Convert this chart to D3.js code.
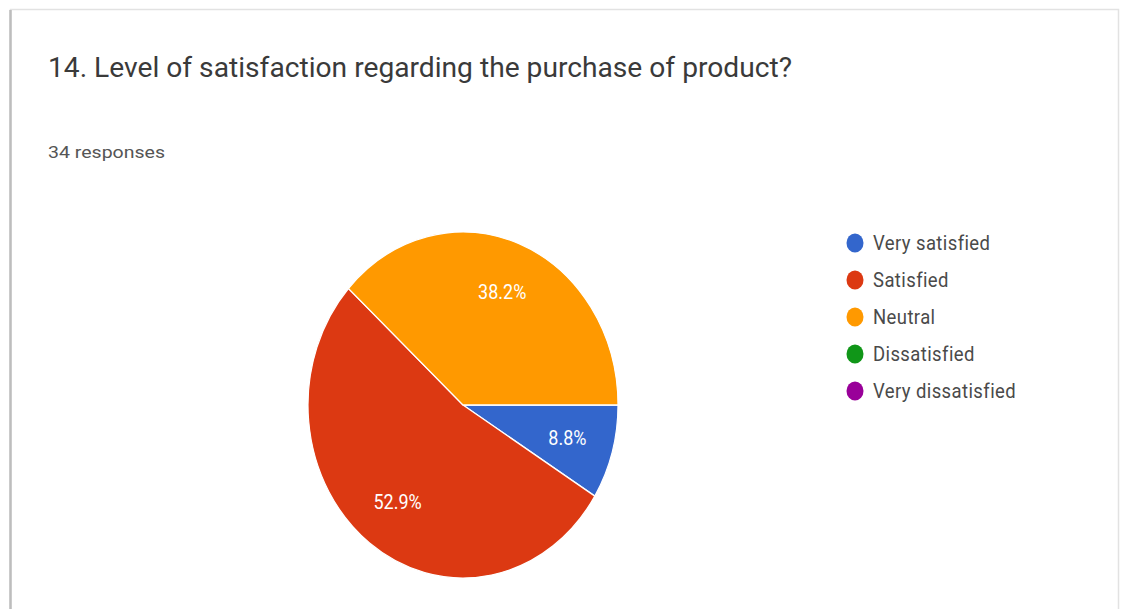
<!DOCTYPE html>
<html>
<head>
<meta charset="utf-8">
<script src="https://cdn.jsdelivr.net/npm/d3@7"></script>
<style>
  html, body { margin: 0; padding: 0; background: #fff; }
  svg { display: block; }
  text { font-family: Roboto, "Noto Sans", Arial, sans-serif; }
</style>
</head>
<body>
<svg id="chart" width="1123" height="609"></svg>
<script>
// Survey answers: question 14, 34 responses
const categories = ["Very satisfied", "Satisfied", "Neutral", "Dissatisfied", "Very dissatisfied"];
const counts = [3, 18, 13, 0, 0];
const colors = ["#3366cc", "#dc3912", "#ff9900", "#109618", "#990099"];
const titleText = "14. Level of satisfaction regarding the purchase of product?";
const responsesText = "34 responses";

const svg = d3.select("#chart");
const W = 1123, H = 609;

// card frame
svg.append("rect").attr("x", 0).attr("y", 0).attr("width", W).attr("height", H).attr("fill", "#fff");
svg.append("rect")
  .attr("x", 10.5).attr("y", 9.5).attr("width", 1108).attr("height", 610)
  .attr("fill", "#fff").attr("stroke", "#e2e2e2").attr("stroke-width", 1.5);
svg.append("line").attr("x1", 10.5).attr("x2", 10.5).attr("y1", 10).attr("y2", H)
  .attr("stroke", "#bdbdbd").attr("stroke-width", 2.5);

// header
svg.append("text")
  .attr("transform", "translate(48,77) scale(1,1.12)")
  .attr("font-size", 24).attr("fill", "#3a3a3a")
  .attr("textLength", 744).attr("lengthAdjust", "spacingAndGlyphs")
  .text(titleText);
svg.append("text")
  .attr("transform", "translate(48,158) scale(1,1.1)")
  .attr("font-size", 15).attr("fill", "#555")
  .attr("textLength", 117).attr("lengthAdjust", "spacingAndGlyphs")
  .text(responsesText);

// pie
const color = d3.scaleOrdinal().domain(categories).range(colors);
const total = d3.sum(counts);
const data = categories.map((c, i) => ({ name: c, value: counts[i] }));

const pie = d3.pie().value(d => d.value).sort(null)
  .startAngle(Math.PI / 2).endAngle(Math.PI / 2 + 2 * Math.PI);
const arcs = pie(data).filter(d => d.value > 0);

const r = 155, sy = 173 / 155;
const cx = 463, cy = 405;
const arc = d3.arc().innerRadius(0).outerRadius(r);
const labelArc = d3.arc().innerRadius(r * 0.7).outerRadius(r * 0.7);

const g = svg.append("g").attr("transform", `translate(${cx},${cy}) scale(1,${sy})`);
g.selectAll("path.slice").data(arcs).join("path")
  .attr("class", "slice")
  .attr("d", arc)
  .attr("fill", d => color(d.data.name))
  .attr("stroke", "#fff").attr("stroke-width", 1.2);

const lg = svg.append("g").attr("transform", `translate(${cx},${cy})`);
lg.selectAll("text").data(arcs).join("text")
  .attr("transform", d => {
    const [x, y] = labelArc.centroid(d);
    return `translate(${x},${y * sy}) scale(1,1.12)`;
  })
  .attr("text-anchor", "middle").attr("dy", "0.36em")
  .attr("font-size", 18).attr("fill", "#fff")
  .text(d => (d.value / total * 100).toFixed(1) + "%");

// legend
const legend = svg.append("g").attr("transform", "translate(855,243)");
const rows = legend.selectAll("g").data(categories).join("g")
  .attr("transform", (d, i) => `translate(0,${i * 37})`);
rows.append("ellipse").attr("rx", 8.5).attr("ry", 9.5).attr("fill", d => color(d));
rows.append("text")
  .attr("transform", "translate(18,0) scale(1,1.1)")
  .attr("dy", "0.36em")
  .attr("font-size", 18.5).attr("letter-spacing", 0.4).attr("fill", "#4a4a4a")
  .text(d => d);
</script>
</body>
</html>
